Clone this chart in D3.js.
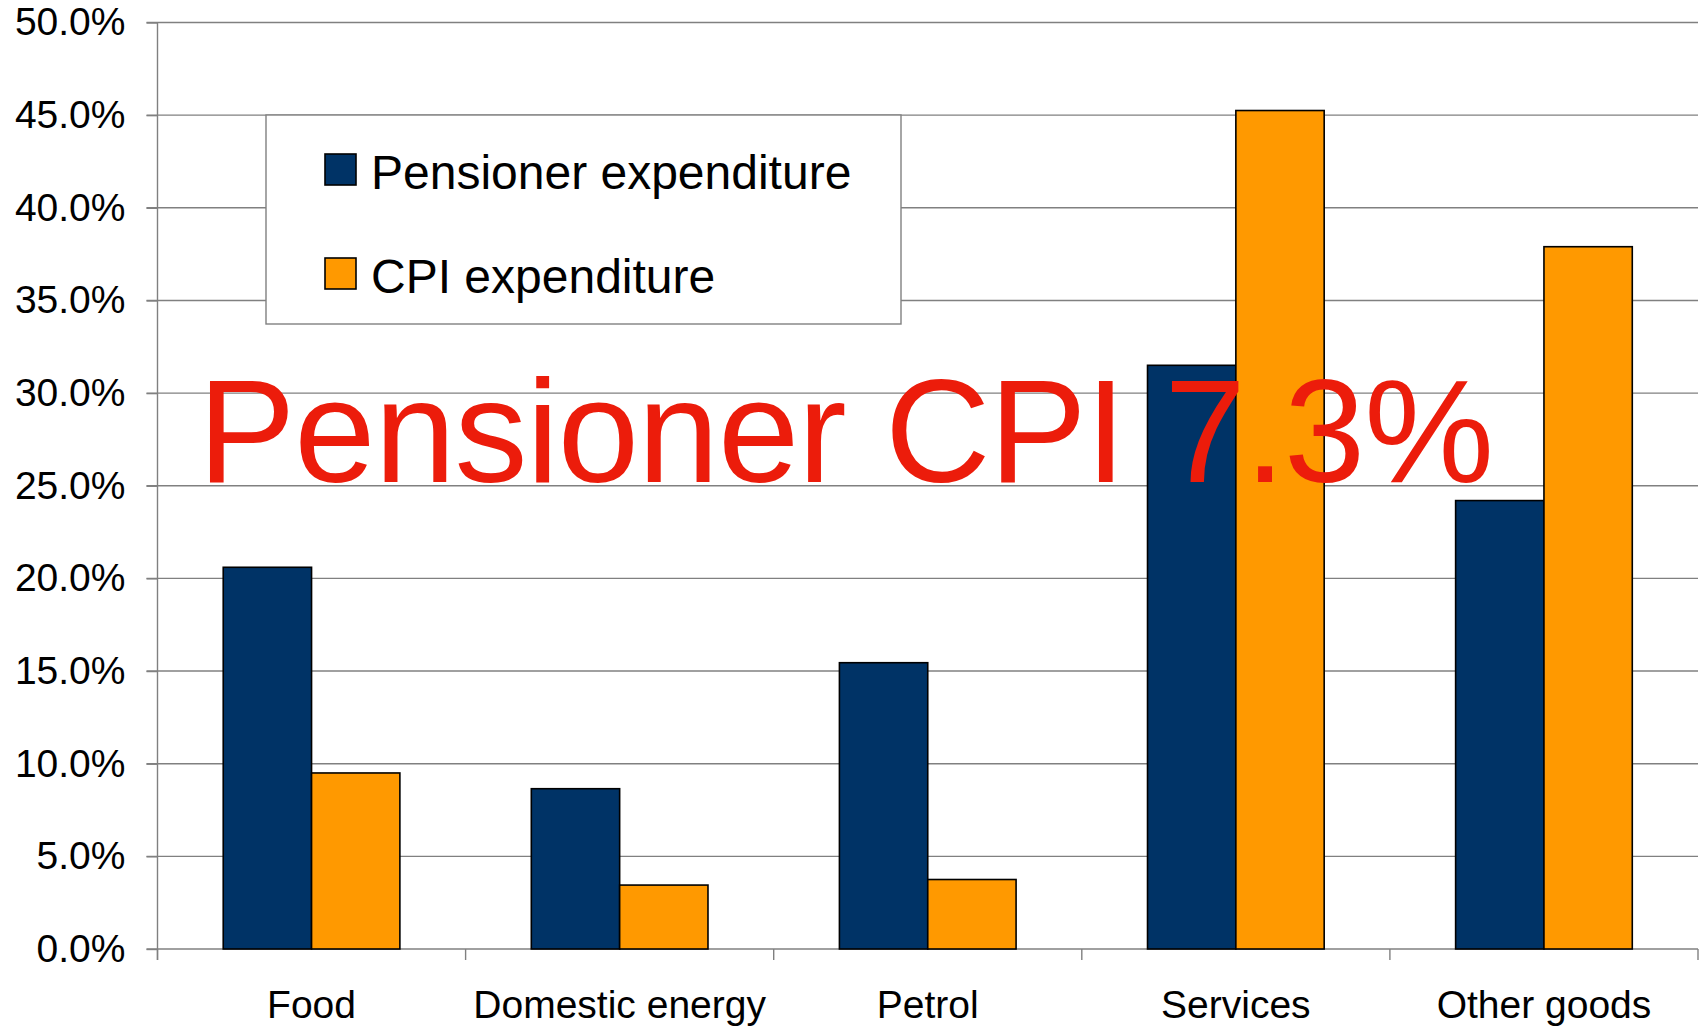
<!DOCTYPE html>
<html>
<head>
<meta charset="utf-8">
<script src="https://cdn.jsdelivr.net/npm/d3@7"></script>
<style>
  body { margin: 0; background: #fff; }
  svg { display: block; font-family: "Liberation Sans", Arial, sans-serif; }
</style>
</head>
<body>
<svg id="chart" width="1700" height="1028"></svg>
<script>
const categories = ["Food", "Domestic energy", "Petrol", "Services", "Other goods"];
const seriesNames = ["Pensioner expenditure", "CPI expenditure"];
const pensioner = [20.6, 8.65, 15.45, 31.5, 24.2];
const cpi = [9.5, 3.45, 3.75, 45.25, 37.9];
const yTicks = [0, 5, 10, 15, 20, 25, 30, 35, 40, 45, 50];
const colors = ["#003366", "#ff9900"];
const overlay = "Pensioner CPI 7.3%";

let svg = d3.select("#chart");
let margin = { top: 22.5, right: 2, bottom: 79, left: 157.5 };
let width = +svg.attr("width") - margin.left - margin.right;
let height = +svg.attr("height") - margin.top - margin.bottom;

let data = categories.map((c, i) => ({ cat: c, values: [pensioner[i], cpi[i]] }));

let g = svg.append("g")
  .attr("transform", "translate(" + margin.left + "," + margin.top + ")");

// scales
let x0 = d3.scaleBand().domain(categories).range([0, width]).padding(0);
let x1 = d3.scaleBand().domain(seriesNames).range([0, x0.bandwidth()])
  .paddingInner(0).paddingOuter(0.744);
let y = d3.scaleLinear().domain([0, 50]).range([height, 0]);

// horizontal gridlines
g.append("g")
  .selectAll("line")
  .data(yTicks)
  .enter()
  .append("line")
  .attr("x1", -11)
  .attr("x2", width)
  .attr("y1", d => y(d))
  .attr("y2", d => y(d))
  .attr("stroke", "#808080")
  .attr("stroke-width", 1.4);

// y axis
let yAxis = g.append("g")
  .call(d3.axisLeft(y).tickValues(yTicks).tickSize(11).tickPadding(21)
    .tickFormat(d => d.toFixed(1) + "%"));
yAxis.select(".domain").remove();
yAxis.selectAll(".tick line").attr("stroke", "#808080").attr("stroke-width", 1.4);
yAxis.selectAll("text")
  .attr("font-size", "39px")
  .attr("font-family", "Liberation Sans, Arial, sans-serif")
  .attr("fill", "#000");
g.append("line")
  .attr("x1", 0).attr("x2", 0)
  .attr("y1", 0).attr("y2", height + 11)
  .attr("stroke", "#808080").attr("stroke-width", 1.4);

// x axis ticks at band boundaries + labels
let xAxis = g.append("g").attr("transform", "translate(0," + height + ")");
xAxis.selectAll("line")
  .data(categories.map(c => x0(c)).concat([width]))
  .enter()
  .append("line")
  .attr("x1", d => d).attr("x2", d => d)
  .attr("y1", 0).attr("y2", 11)
  .attr("stroke", "#808080").attr("stroke-width", 1.4);
xAxis.selectAll("text")
  .data(categories)
  .enter()
  .append("text")
  .attr("x", d => x0(d) + x0.bandwidth() / 2)
  .attr("y", 69)
  .attr("text-anchor", "middle")
  .attr("font-size", "39px")
  .attr("fill", "#000")
  .text(d => d);

// bars
let groups = g.selectAll(".grp")
  .data(data)
  .enter()
  .append("g")
  .attr("class", "grp")
  .attr("transform", d => "translate(" + x0(d.cat) + ",0)");

groups.selectAll("rect")
  .data(d => d.values.map((v, i) => ({ key: seriesNames[i], value: v, i: i })))
  .enter()
  .append("rect")
  .attr("x", d => x1(d.key))
  .attr("y", d => y(d.value))
  .attr("width", x1.bandwidth())
  .attr("height", d => height - y(d.value))
  .attr("fill", d => colors[d.i])
  .attr("stroke", "#000")
  .attr("stroke-width", 1.6);

// legend
let legend = svg.append("g").attr("transform", "translate(266,115)");
legend.append("rect")
  .attr("width", 635)
  .attr("height", 209)
  .attr("fill", "#fff")
  .attr("stroke", "#808080")
  .attr("stroke-width", 1.4);
let items = legend.selectAll(".item")
  .data(seriesNames)
  .enter()
  .append("g")
  .attr("class", "item")
  .attr("transform", (d, i) => "translate(0," + i * 104 + ")");
items.append("rect")
  .attr("x", 59).attr("y", 39)
  .attr("width", 31).attr("height", 31)
  .attr("fill", (d, i) => colors[i])
  .attr("stroke", "#000")
  .attr("stroke-width", 1.6);
items.append("text")
  .attr("x", 105)
  .attr("y", 74)
  .attr("font-size", "48px")
  .attr("fill", "#000")
  .text(d => d);

// big red annotation
svg.append("text")
  .attr("x", 198)
  .attr("y", 482)
  .attr("font-size", "146px")
  .attr("letter-spacing", "-1.1px")
  .attr("fill", "#ec1c0b")
  .text(overlay);
</script>
</body>
</html>
